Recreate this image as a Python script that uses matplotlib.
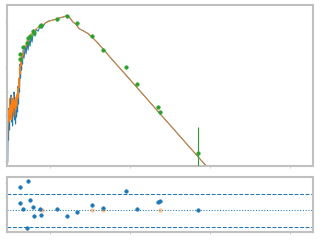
import matplotlib
matplotlib.use("Agg")
import matplotlib.pyplot as plt
from matplotlib.ticker import LogLocator, NullLocator, NullFormatter, FixedLocator

# spectrum (wavelength, observed flux, model flux)
wave = [0.02959, 0.02985, 0.03028, 0.03072, 0.03117, 0.03162, 0.03208, 0.03255, 0.03302, 0.03350,
        0.03398, 0.03448, 0.03498, 0.03548, 0.03600, 0.03652, 0.03705, 0.03758, 0.03813, 0.03868,
        0.03925, 0.03981, 0.04039, 0.04097, 0.04157, 0.04217, 0.04279, 0.04341, 0.04404, 0.04467,
        0.04532, 0.04597, 0.04732, 0.04870, 0.05012, 0.05158, 0.05309, 0.05464, 0.05623, 0.05788,
        0.05957, 0.06131, 0.06310, 0.06494, 0.06683, 0.07079, 0.07499, 0.07943, 0.08660, 0.09441,
        0.1059, 0.1189, 0.1334, 0.1496, 0.1631, 0.1778, 0.1939, 0.2113, 0.2304, 0.2586,
        0.2985, 0.3350, 0.3758, 0.4217, 0.4870, 0.5623, 1.0, 1.778, 3.162, 5.623, 11.55]
flux_obs = [9.46e-16, 5.96e-15, 2.83e-15, 1.39e-14, 4.65e-15, 2.07e-14, 8.45e-15, 2.65e-14, 6.92e-15, 1.69e-14,
            5.67e-15, 2.28e-14, 9.33e-15, 3.08e-14, 7.65e-15, 1.26e-14, 6.27e-15, 2.07e-14, 8.88e-15, 2.52e-14,
            1.14e-14, 4.15e-14, 1.69e-14, 5.59e-14, 3.08e-14, 1.24e-13, 6.17e-14, 1.67e-13, 9.19e-14, 2.04e-13,
            1.24e-13, 2.49e-13, 1.67e-13, 3.03e-13, 2.04e-13, 3.70e-13, 2.49e-13, 4.09e-13, 3.03e-13, 4.99e-13,
            3.70e-13, 5.51e-13, 6.39e-13, 4.99e-13, 7.06e-13, 6.39e-13, 8.20e-13, 7.42e-13, 9.52e-13, 1.05e-12,
            1.10e-12, 1.16e-12, 1.25e-12, 1.31e-12, 1.42e-12, 1.22e-12, 1.0e-12, 9.05e-13, 7.24e-13, 6.55e-13,
            5.65e-13, 4.74e-13, 3.89e-13, 3.11e-13, 2.36e-13, 1.75e-13, 5.70e-14, 1.84e-14, 5.96e-15, 1.93e-15, 4.72e-16]
flux_mod = [2.83e-15, 5.14e-15, 1.26e-14, 6.92e-15, 2.28e-14, 9.80e-15, 1.61e-14, 7.65e-15, 2.40e-14, 1.14e-14,
            2.07e-14, 8.45e-15, 2.65e-14, 1.39e-14, 2.07e-14, 9.33e-15, 2.40e-14, 1.26e-14, 2.79e-14, 1.53e-14,
            3.75e-14, 2.28e-14, 6.17e-14, 3.75e-14, 1.12e-13, 7.53e-14, 1.51e-13, 1.12e-13, 1.94e-13, 1.51e-13,
            2.14e-13, 1.84e-13, 2.49e-13, 3.19e-13, 2.88e-13, 4.09e-13, 3.70e-13, 4.99e-13, 4.51e-13, 5.79e-13,
            5.51e-13, 6.39e-13, 6.72e-13, 6.72e-13, 7.06e-13, 7.80e-13, 8.20e-13, 8.61e-13, 9.52e-13, 1.03e-12,
            1.10e-12, 1.16e-12, 1.25e-12, 1.31e-12, 1.40e-12, 1.22e-12, 1.0e-12, 9.05e-13, 7.24e-13, 6.55e-13,
            5.65e-13, 4.74e-13, 3.89e-13, 3.11e-13, 2.36e-13, 1.75e-13, 5.70e-14, 1.84e-14, 5.96e-15, 1.93e-15, 4.72e-16]

# photometry
phot_wave = [0.04253, 0.04253, 0.04638, 0.05202, 0.05354, 0.05574, 0.06183, 0.06364, 0.07563, 0.07782,
             0.1234, 0.1645, 0.2194, 0.3379, 0.4637, 0.8990, 1.234, 2.258, 2.392, 7.141]
phot_flux = [1.59e-13, 2.04e-13, 2.88e-13, 3.61e-13, 4.51e-13, 4.99e-13, 6.49e-13, 5.70e-13, 8.40e-13, 8.61e-13,
             1.20e-12, 1.37e-12, 9.38e-13, 4.99e-13, 2.45e-13, 1.05e-13, 4.51e-14, 1.44e-14, 1.12e-14, 1.46e-15]
phot_err = [2e-15, 2e-15, 3e-15, 4e-15, 5e-15, 5e-15, 6e-15, 6e-15, 8e-15, 8e-15,
            1e-14, 1e-14, 9e-15, 5e-15, 2e-15, 1e-15, 4e-16, 1e-16, 1e-16, 4.02e-15]
resid = [1.66, 0.49, 0.05, -1.27, 2.10, 0.71, 0.20, -0.46, 0.05, -0.39,
         0.05, -0.46, -0.17, 0.34, 0.12, 1.37, 0.05, 0.56, 0.64, 0.0]
excl_wave = [0.0800, 0.3379, 0.4637, 2.392]
excl_resid = [0.0, 0.0, 0.0, 0.0]
band_levels = [1.15, -1.25]

fig = plt.figure(figsize=(6.4, 4.8), dpi=50)
ax = fig.add_axes([0.022, 0.308, 0.956, 0.671])
axr = fig.add_axes([0.022, 0.033, 0.956, 0.228], sharex=ax)

ax.plot(wave, flux_obs, color='C0', lw=1.5)
ax.plot(wave, flux_mod, color='C1', lw=1.2)
ax.errorbar(phot_wave, phot_flux, yerr=phot_err, fmt='o', color='C2', ms=5, lw=1.5, zorder=5)
ax.set_xscale('log')
ax.set_yscale('log')
ax.set_xlim(0.02897, 193.9)
ax.set_ylim(7.7e-16, 2.35e-12)

axr.plot(phot_wave, resid, 'o', color='C0', ms=5, zorder=4)
axr.plot(excl_wave, excl_resid, 'o', color='C1', ms=5, alpha=0.4, zorder=3)
axr.axhline(0, color='C0', ls=':', lw=1.5)
for lev in band_levels:
    axr.axhline(lev, color='C0', ls='--', lw=1.5)
axr.set_ylim(-1.6, 2.39)
axr.yaxis.set_major_locator(FixedLocator([-1, 0, 1, 2]))

for a in (ax, axr):
    for s in a.spines.values():
        s.set_color('#c0c0c0')
        s.set_linewidth(3)
    a.tick_params(which='both', colors='#a0a0a0', labelbottom=False, labelleft=False)
    a.xaxis.set_minor_locator(LogLocator(subs=range(2, 10)))
    a.xaxis.set_minor_formatter(NullFormatter())
ax.yaxis.set_minor_locator(NullLocator())
ax.yaxis.set_major_locator(FixedLocator([1e-15, 1e-14, 1e-13, 1e-12]))

fig.savefig('out.png', dpi=50)
